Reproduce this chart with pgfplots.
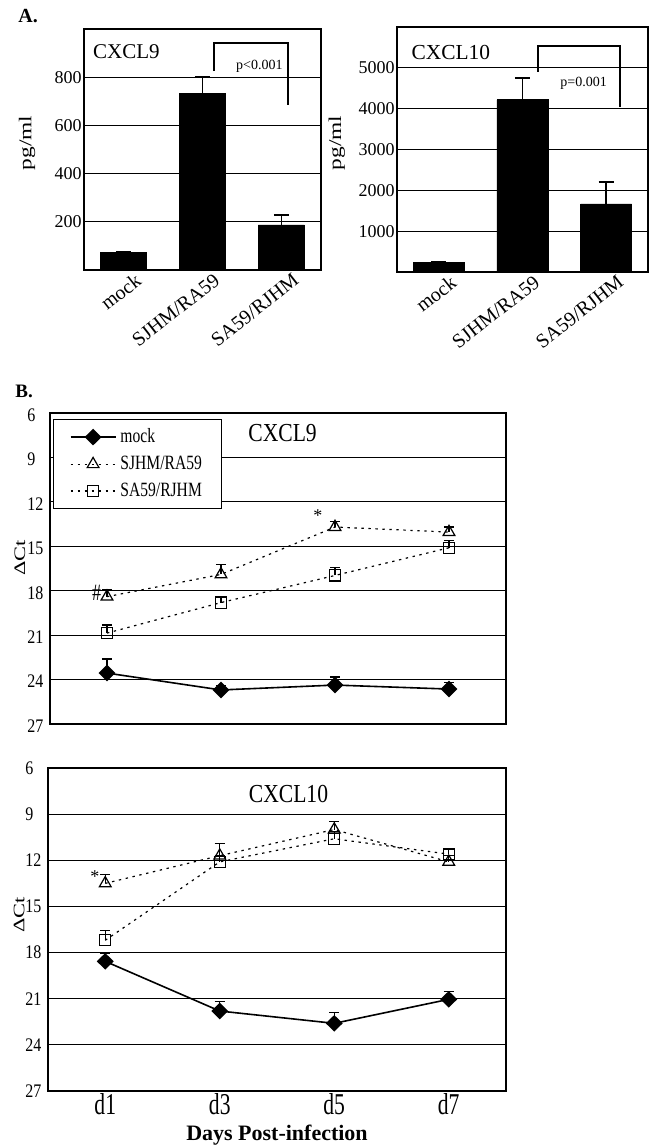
\documentclass[border=0pt]{standalone}
\usepackage{fontspec}
\setmainfont{Liberation Serif}
\usepackage{graphicx}
\usepackage{pgfplots}
\pgfplotsset{compat=1.18}

\newcommand{\vs}[2][1.3]{\scalebox{1}[#1]{#2}}
\newcommand{\fs}[1]{\fontsize{#1}{#1}\selectfont}

% ELISA (pg/ml): x value err
\pgfplotstableread{
x y e
0 71 4
1 733 67
2 187 42
}\elisanine
\pgfplotstableread{
x y e
0 245 0
1 4216 539
2 1667 539
}\elisaten

% Delta Ct: day index, mock, SJHM/RA59, SA59/RJHM (value, error)
\pgfplotstableread{
x m me s se r re
0 23.56 0.95 18.40 0.45 20.86 0.55
1 24.70 0.30 16.90 0.65 18.80 0.35
2 24.37 0.55 13.70 0.35 16.97 0.55
3 24.64 0.45 14.04 0.35 15.10 0.50
}\ctnine
\pgfplotstableread{
x m me s se r re
0 18.57 0.52 13.50 0.57 17.20 0.64
1 21.80 0.63 11.70 0.80 12.10 0.40
2 22.60 0.70 10.00 0.50 10.60 0.45
3 21.04 0.50 12.10 0.40 11.60 0.30
}\ctten

\pgfplotsset{
  common/.style={scale only axis, anchor=south west,
    major tick length=0pt, ymajorgrids,
    grid style={black, line width=0.6pt},
    axis line style={line width=0.9pt},
    /pgf/number format/assume math mode=true,
    /pgf/number format/1000 sep={},
    scaled y ticks=false, clip=false},
  panelA/.style={common, xmin=-0.5, xmax=2.5, ymin=0, ybar,
    xtick={0,1,2}, xticklabels={mock,SJHM/RA59,SA59/RJHM},
    xticklabel style={rotate=38, anchor=north east, font=\fs{10}, inner sep=1pt,
      xshift=4.5pt, yshift=-3pt},
    yticklabel style={font=\fs{9}, inner xsep=1pt},
    ylabel={\scalebox{1.3}[1]{pg/ml}},
    ylabel style={font=\fs{9}, at={(axis description cs:-0.24,0.527)}, anchor=center}},
  bars/.style={fill=black, draw=black,
    error bars/.cd, y dir=plus, y explicit,
    error bar style={black, line width=0.8pt},
    error mark options={rotate=90, black, line width=0.8pt, mark size=3.75pt}},
  panelB/.style={common, xmin=-0.5, xmax=3.5, ymin=6, ymax=27, y dir=reverse,
    ytick={6,9,...,27}, xtick={0,1,2,3},
    yticklabel style={anchor=west, xshift=-11.5pt, inner sep=0pt, font=\fs{8}},
    yticklabel={\vs[1.2]{\pgfmathprintnumber{\tick}}},
    ylabel={\scalebox{1.4}[1]{ΔCt}},
    ylabel style={font=\fs{8}, anchor=center}},
  errs/.style={error bars/.cd, y dir=minus, y explicit,
    error bar style={solid, black, line width=0.6pt},
    error mark options={rotate=90, solid, black, line width=0.6pt, mark size=2.5pt}},
  mockline/.style={black, solid, line width=0.8pt, mark=diamond*,
    mark size=3.6pt, mark options={solid, fill=black, xscale=1.35}},
  sjline/.style={black, line width=0.6pt, dash pattern=on 1.2pt off 2.3pt,
    mark=triangle, mark size=3.4pt, mark options={solid, line width=0.6pt}},
  saline/.style={black, line width=0.6pt, dash pattern=on 1.2pt off 2.3pt,
    mark=square, mark size=2.8pt, mark options={solid, line width=0.6pt}},
  legend image code/.code={\draw[mark repeat=2,mark phase=2,#1]
    plot coordinates {(0pt,0pt) (11.25pt,0pt) (22.5pt,0pt)};},
}

\begin{document}
\begin{tikzpicture}
\path[use as bounding box] (0,0) rectangle (327pt,-574pt);

\node[anchor=west, font=\fs{10}\bfseries, inner sep=0pt] at (9pt,-8pt) {A.};
\node[anchor=west, font=\fs{9.5}\bfseries, inner sep=0pt] at (7.5pt,-195.5pt) {B.};

% A, CXCL9
\begin{axis}[panelA, at={(42pt,-135pt)}, width=118.5pt, height=120.5pt,
  ymax=1000, ytick={200,400,600,800}, bar width=23pt]
\addplot[bars] table[x=x, y=y, y error=e] {\elisanine};
\draw[line width=1pt] (axis cs:1.14,825) -- (axis cs:1.14,942)
  -- (axis cs:2.08,942) -- (axis cs:2.08,683);
\node[font=\fs{7}] at (axis cs:1.72,846) {p<0.001};
\node[anchor=west, font=\fs{10.5}, inner sep=0pt] at (axis cs:-0.39,904) {CXCL9};
\end{axis}

% A, CXCL10
\begin{axis}[panelA, at={(198.5pt,-136pt)}, width=125.5pt, height=122.5pt,
  ymax=6000, ytick={1000,2000,3000,4000,5000}, bar width=25.5pt]
\addplot[bars] table[x=x, y=y, y error=e] {\elisaten};
\draw[line width=1pt] (axis cs:1.19,4900) -- (axis cs:1.19,5540)
  -- (axis cs:2.17,5540) -- (axis cs:2.17,4040);
\node[font=\fs{7}] at (axis cs:1.73,4630) {p=0.001};
\node[anchor=west, font=\fs{10.7}, inner sep=0pt] at (axis cs:-0.33,5370) {CXCL10};
\end{axis}

% B, CXCL9
\begin{axis}[panelB, at={(25pt,-362pt)}, width=228pt, height=155.5pt,
  xticklabels={}, yticklabel style={yshift=-1pt},
  ylabel style={at={(axis description cs:-0.066,0.534)}},
  legend cell align=left,
  legend style={at={(axis description cs:0.007,0.981)}, anchor=north west,
    draw=black, line width=0.6pt, fill=white, font=\fs{7.8},
    inner xsep=8pt, inner ysep=2.5pt, row sep=1.2pt}]
\addplot[mockline, errs] table[x=x, y=m, y error=me] {\ctnine};
\addlegendentry{\vs{mock}}
\addplot[sjline, errs] table[x=x, y=s, y error=se] {\ctnine};
\addlegendentry{\vs{SJHM/RA59}}
\addplot[saline, errs] table[x=x, y=r, y error=re] {\ctnine};
\addlegendentry{\vs{SA59/RJHM}}
\node[font=\fs{10.8}] at (axis cs:1.54,7.35) {\vs[1.2]{CXCL9}};
\node[font=\fs{9}, inner sep=0pt] at (axis cs:-0.09,18.15) {\vs{\#}};
\node[font=\fs{9}, inner sep=0pt] at (axis cs:1.85,12.95) {*};
\end{axis}

% B, CXCL10
\begin{axis}[panelB, at={(24pt,-545.5pt)}, width=229pt, height=161.5pt,
  xticklabels={\vs[1.4]{d1},\vs[1.4]{d3},\vs[1.4]{d5},\vs[1.4]{d7}},
  xticklabel style={font=\fs{10.8}, inner sep=1pt},
  ylabel style={at={(axis description cs:-0.063,0.545)}},
  xlabel={Days Post-infection},
  xlabel style={font=\fs{11}\bfseries, at={(axis description cs:0.5,-0.136)}, anchor=center}]
\addplot[mockline, errs] table[x=x, y=m, y error=me] {\ctten};
\addplot[sjline, errs] table[x=x, y=s, y error=se] {\ctten};
\addplot[saline, errs] table[x=x, y=r, y error=re] {\ctten};
\node[font=\fs{10.8}] at (axis cs:1.6,7.7) {\vs[1.2]{CXCL10}};
\node[font=\fs{9}, inner sep=0pt] at (axis cs:-0.09,13.05) {*};
\end{axis}
\end{tikzpicture}
\end{document}
